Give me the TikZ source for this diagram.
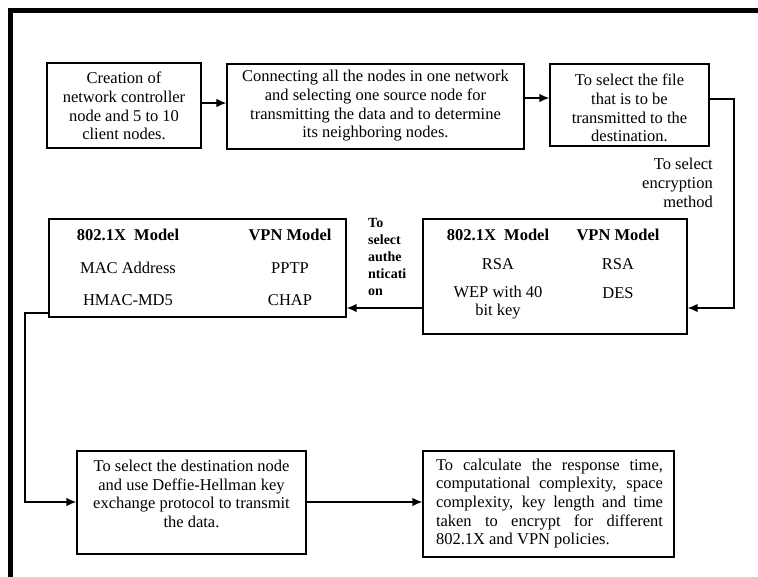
\documentclass[tikz,border=0pt]{standalone}
\usepackage{fontspec}
\setmainfont{Liberation Serif}
\usetikzlibrary{arrows.meta,calc}
\begin{document}
\begin{tikzpicture}[x=1pt,y=-1pt,
  box/.style={draw,line width=1.3pt,inner sep=0pt},
  txt/.style={inner sep=0pt,font=\fontsize{16.5}{18.7}\selectfont,align=center},
  hd/.style={inner sep=0pt,font=\fontsize{16.5}{18.7}\selectfont\bfseries,align=center},
  arr/.style={line width=1.4pt,-{Latex[length=10pt,width=8.5pt]}},
  ln/.style={line width=1.3pt}]
\useasboundingbox (0,0) rectangle (758,576);
% frame
\draw[line width=5pt] (10,590) -- (10,10.5) -- (770,10.5);
% top row
\node[box,minimum width=154pt,minimum height=85pt] (b1) at (124,105.5) {};
\node[txt] (t1) at (124,106) {Creation of\\network controller\\node and 5 to 10\\client nodes.};
\node[box,minimum width=297pt,minimum height=85pt] (b2) at (375.5,106.5) {};
\node[txt] (t2) at (375.5,106) {Connecting all the nodes in one network\\and selecting one source node for\\transmitting the data and to determine\\its neighboring nodes.};
\node[box,minimum width=159pt,minimum height=82pt] (b3) at (629.5,105) {};
\node[txt] (t3) at (629.5,108) {To select the file\\that is to be\\transmitted to the\\destination.};
\node[txt,anchor=north east,align=right] (lenc) at (713,158) {To select\\encryption\\method};
% middle row
\node[box,minimum width=297pt,minimum height=98pt] (b4) at (197.5,268) {};
\node[hd] (h41) at (128,235) {802.1X\ \ Model};
\node[hd] (h42) at (290,235) {VPN Model};
\node[txt] (t41) at (128,268) {MAC Address};
\node[txt] (t42) at (290,268) {PPTP};
\node[txt] (t43) at (128,300) {HMAC-MD5};
\node[txt] (t44) at (290,300) {CHAP};
\node[box,minimum width=264pt,minimum height=115pt] (b5) at (555,276.5) {};
\node[hd] (h51) at (498,235) {802.1X\ \ Model};
\node[hd] (h52) at (618,235) {VPN Model};
\node[txt] (t51) at (498,264) {RSA};
\node[txt] (t52) at (618,264) {RSA};
\node[txt] (t53) at (498,302.5) {WEP with 40\\bit key};
\node[txt] (t54) at (618,293) {DES};
\node[inner sep=0pt,font=\fontsize{14}{17}\selectfont\bfseries,align=left,anchor=north west] (lauth) at (368,218) {To\\select\\authe\\nticati\\on};
% bottom row
\node[box,minimum width=229pt,minimum height=103pt] (b6) at (191.5,502.5) {};
\node[txt] (t6) at (191.5,494) {To select the destination node\\and use Deffie-Hellman key\\exchange protocol to transmit\\the data.};
\node[box,minimum width=251pt,minimum height=106pt] (b7) at (548.5,504) {};
\node[txt,text width=227pt,align=justify] (t7) at (549.5,503.5) {To calculate the response time, computational complexity, space complexity, key length and time taken to encrypt for different 802.1X and VPN policies.};
% connectors
\coordinate (c1) at (734,99);
\coordinate (c2) at (25,313);
\draw[arr] (b1.east |- 0,103) -- (b2.west |- 0,103);
\draw[arr] (b2.east |- 0,98) -- (b3.west |- 0,98);
\draw[arr] (b3.east |- c1) -- (c1) |- (b5.east |- 0,308);
\draw[arr] (b5.west |- 0,308) -- (b4.east |- 0,308);
\draw[arr] (b4.west |- c2) -- (c2) |- (b6.west |- 0,502);
\draw[arr] (b6.east |- 0,502) -- (b7.west |- 0,502);
\end{tikzpicture}
\end{document}
